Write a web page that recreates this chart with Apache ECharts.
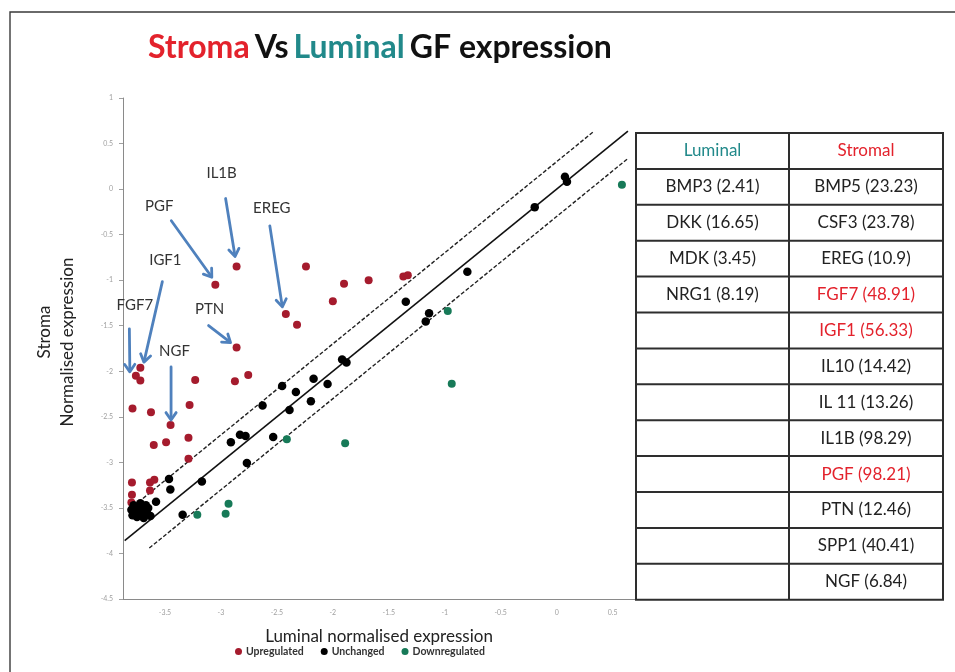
<!DOCTYPE html>
<html>
<head>
<meta charset="utf-8">
<script src="https://cdn.jsdelivr.net/npm/echarts@6/dist/echarts.min.js"></script>
<style>
  html, body { margin: 0; padding: 0; background: #ffffff; }
  #chart { width: 955px; height: 672px; }
</style>
</head>
<body>
<div id="chart"></div>
<script>
// Growth factor expression: [luminal, stroma] normalised expression (log10)
const upregulated = [
  [-2.86, -0.85], [-2.24, -0.85], [-3.05, -1.05], [-1.90, -1.04], [-1.68, -1.00],
  [-2.00, -1.23], [-1.37, -0.96], [-1.33, -0.945], [-2.42, -1.37], [-2.32, -1.49],
  [-2.86, -1.74], [-3.72, -1.96], [-3.76, -2.05], [-3.72, -2.10], [-3.23, -2.095],
  [-2.875, -2.11], [-2.756, -2.04], [-3.79, -2.41], [-3.625, -2.45], [-3.28, -2.37],
  [-3.45, -2.59], [-3.60, -2.81], [-3.49, -2.78], [-3.29, -2.73], [-3.29, -2.96],
  [-3.795, -3.22], [-3.634, -3.22], [-3.595, -3.19], [-3.795, -3.355], [-3.634, -3.31],
  [-3.80, -3.44]
];
// Gene names of the labelled upregulated points (index into upregulated)
const labelledGenes = ['IL1B', 'PGF', 'EREG', 'PTN', 'IGF1', 'FGF7', 'NGF'];
const labelledIndex = [0, 2, 8, 10, 11, 12, 20];

const unchanged = [
  [0.074, 0.135], [0.092, 0.08], [-0.196, -0.198], [-0.798, -0.908], [-1.348, -1.238],
  [-1.14, -1.363], [-1.17, -1.454], [-1.917, -1.872], [-1.878, -1.905], [-2.172, -2.081],
  [-2.047, -2.139], [-2.453, -2.161], [-2.33, -2.227], [-2.196, -2.33], [-2.628, -2.377],
  [-2.387, -2.425], [-2.533, -2.722], [-2.83, -2.696], [-2.78, -2.711], [-2.911, -2.78],
  [-2.768, -3.008], [-3.17, -3.209], [-3.464, -3.183], [-3.452, -3.297], [-3.58, -3.432],
  [-3.342, -3.575],
  [-3.80, -3.52], [-3.79, -3.58], [-3.78, -3.47], [-3.76, -3.55], [-3.75, -3.60],
  [-3.74, -3.50], [-3.72, -3.45], [-3.71, -3.57], [-3.70, -3.52], [-3.69, -3.61],
  [-3.67, -3.47], [-3.66, -3.56], [-3.65, -3.50], [-3.63, -3.59]
];

const downregulated = [
  [0.583, 0.047], [-0.973, -1.337], [-0.9375, -2.136], [-2.411, -2.747], [-1.89, -2.791],
  [-2.932, -3.454], [-2.958, -3.564], [-3.211, -3.575]
];

// Equal-expression line and the 2-fold boundaries either side of it
const identityLine = [[-3.86, -3.86], [0.637, 0.637]];
const upperBound = [[-3.78, -3.479], [0.324, 0.625]];
const lowerBound = [[-3.64, -3.941], [0.637, 0.336]];

const xTicks = [-3.5, -3, -2.5, -2, -1.5, -1, -0.5, 0, 0.5];

// Fold changes listed in the side table
const luminalGenes = ['BMP3', 'DKK', 'MDK', 'NRG1'];
const luminalFold = [2.41, 16.65, 3.45, 8.19];
const stromalGenes = ['BMP5', 'CSF3', 'EREG', 'FGF7', 'IGF1', 'IL10', 'IL 11', 'IL1B', 'PGF', 'PTN', 'SPP1', 'NGF'];
const stromalFold = [23.23, 23.78, 10.9, 48.91, 56.33, 14.42, 13.26, 98.29, 98.21, 12.46, 40.41, 6.84];
const stromalHighlighted = ['FGF7', 'IGF1', 'PGF'];

const RED = '#a51b2d', BLACK = '#000000', GREEN = '#177a58';
const TITLE_RED = '#e3222c', TEAL = '#21898a';
const FONT = 'Lato, "Open Sans", sans-serif';

const chart = echarts.init(document.getElementById('chart'), null, { renderer: 'canvas' });

const option = {
  animation: false,
  backgroundColor: '#ffffff',
  title: {
    left: 143, top: 27,
    text: '{r|Stroma} {k|Vs} {t|Luminal} {k|GF expression}',
    textStyle: {
      rich: {
        r: { color: TITLE_RED, fontSize: 32, fontWeight: 'bold', fontFamily: FONT },
        t: { color: TEAL, fontSize: 32, fontWeight: 'bold', fontFamily: FONT },
        k: { color: '#111', fontSize: 32, fontWeight: 'bold', fontFamily: FONT }
      }
    }
  },
  legend: {
    left: 230, top: 641,
    itemWidth: 7, itemHeight: 7, itemGap: 17,
    icon: 'circle',
    textStyle: { fontSize: 10.5, fontWeight: 'bold', color: '#333', fontFamily: FONT, padding: [0, 0, 0, -1] },
    data: ['Upregulated', 'Unchanged', 'Downregulated']
  },
  grid: { left: 123, top: 98, width: 512, height: 501 },
  xAxis: {
    type: 'value', min: -3.875, max: 0.7,
    name: 'Luminal normalised expression',
    nameLocation: 'middle', nameGap: 29,
    nameTextStyle: { fontSize: 17, color: '#222', fontFamily: FONT },
    axisLine: { onZero: false, lineStyle: { color: '#8a8a8a', width: 1 } },
    axisTick: { show: false },
    axisLabel: { customValues: xTicks, fontSize: 7, color: '#a0a0a0', margin: 10, fontFamily: FONT },
    splitLine: { show: false }
  },
  yAxis: {
    type: 'value', min: -4.5, max: 1, interval: 0.5,
    axisLine: { show: true, onZero: false, lineStyle: { color: '#8a8a8a', width: 1 } },
    axisTick: { show: true, length: 4, lineStyle: { color: '#a0a0a0' } },
    axisLabel: { fontSize: 7, color: '#a0a0a0', margin: 10, fontFamily: FONT },
    splitLine: { show: false }
  },
  series: [
    { type: 'line', data: identityLine, symbol: 'none', silent: true, z: 1,
      lineStyle: { color: '#111', width: 1.6 } },
    { type: 'line', data: upperBound, symbol: 'none', silent: true, z: 1,
      lineStyle: { color: '#222', width: 1.4, type: [4, 2] } },
    { type: 'line', data: lowerBound, symbol: 'none', silent: true, z: 1,
      lineStyle: { color: '#222', width: 1.4, type: [4, 2] } },
    { name: 'Upregulated', type: 'scatter', data: upregulated, symbolSize: 8, z: 3,
      itemStyle: { color: RED, opacity: 1 } },
    { name: 'Unchanged', type: 'scatter', data: unchanged, symbolSize: 8.5, z: 3,
      itemStyle: { color: BLACK, opacity: 1 } },
    { name: 'Downregulated', type: 'scatter', data: downregulated, symbolSize: 8, z: 3,
      itemStyle: { color: GREEN, opacity: 1 } }
  ]
};
chart.setOption(option);

// Callout placement relative to each labelled point, in pixels:
// tip of the arrow, tail of the arrow, and centre of the gene label.
const calloutLayout = {
  IL1B: { tip: [-1.5, -10], tail: [-11, -68], label: [-15, -93] },
  PGF:  { tip: [-3.5, -7.5], tail: [-44, -64], label: [-56, -79] },
  EREG: { tip: [-3.5, -7], tail: [-16, -88], label: [-14, -106] },
  PTN:  { tip: [-6, -5], tail: [-28, -22], label: [-27, -38] },
  IGF1: { tip: [3.6, -5.5], tail: [22, -86], label: [25, -107] },
  FGF7: { tip: [-6, -4], tail: [-6.5, -47], label: [-1, -71] },
  NGF:  { tip: [0.5, -5], tail: [0.5, -58], label: [4, -74] }
};

const ARROW = '#4f81bd';
const graphics = [];

// Outer frame
graphics.push({ type: 'rect', shape: { x: 10, y: 12, width: 960, height: 680 }, silent: true,
  style: { fill: null, stroke: '#3a3a3a', lineWidth: 1.4 }, z: 0 });

labelledGenes.forEach(function (gene, i) {
  const p = chart.convertToPixel({ gridIndex: 0 }, upregulated[labelledIndex[i]]);
  const L = calloutLayout[gene];
  const tip = [p[0] + L.tip[0], p[1] + L.tip[1]];
  const tail = [p[0] + L.tail[0], p[1] + L.tail[1]];
  const dx = tip[0] - tail[0], dy = tip[1] - tail[1];
  const len = Math.sqrt(dx * dx + dy * dy);
  const ux = dx / len, uy = dy / len;
  const head = 9, ang = 0.6;
  const c = Math.cos(ang), s = Math.sin(ang);
  const h1 = [tip[0] - head * (ux * c - uy * s), tip[1] - head * (uy * c + ux * s)];
  const h2 = [tip[0] - head * (ux * c + uy * s), tip[1] - head * (uy * c - ux * s)];
  graphics.push({ type: 'line', silent: true, z: 5,
    shape: { x1: tail[0], y1: tail[1], x2: tip[0] - ux * 1.5, y2: tip[1] - uy * 1.5 },
    style: { stroke: ARROW, lineWidth: 2.8, lineCap: 'round' } });
  graphics.push({ type: 'polyline', silent: true, z: 5,
    shape: { points: [h1, tip, h2] },
    style: { stroke: ARROW, lineWidth: 2.8, fill: null, lineJoin: 'round', lineCap: 'round' } });
  graphics.push({ type: 'text', silent: true, z: 5,
    x: p[0] + L.label[0], y: p[1] + L.label[1],
    style: { text: gene, fill: '#333', fontSize: 15, fontFamily: FONT,
      textAlign: 'center', textVerticalAlign: 'middle' } });
});

// Y axis title, two rotated lines
graphics.push({ type: 'text', silent: true, x: 45, y: 332, rotation: Math.PI / 2,
  style: { text: 'Stroma', fill: '#222', fontSize: 17, fontFamily: FONT, textAlign: 'center', textVerticalAlign: 'middle' } });
graphics.push({ type: 'text', silent: true, x: 68, y: 342, rotation: Math.PI / 2,
  style: { text: 'Normalised expression', fill: '#222', fontSize: 17, fontFamily: FONT, textAlign: 'center', textVerticalAlign: 'middle' } });

// Side table of fold changes
const tableLeft = 636, tableTop = 133, colWidths = [153, 154], rowHeight = 35.9;
const rowCount = stromalGenes.length + 1;
const tableWidth = colWidths[0] + colWidths[1];
const tableHeight = rowHeight * rowCount;
const LINE = '#2e2e2e';
graphics.push({ type: 'rect', silent: true, z: 4,
  shape: { x: tableLeft, y: tableTop, width: tableWidth, height: tableHeight },
  style: { fill: '#fff', stroke: LINE, lineWidth: 2 } });
for (let r = 1; r < rowCount; r++) {
  graphics.push({ type: 'line', silent: true, z: 4,
    shape: { x1: tableLeft, y1: tableTop + r * rowHeight, x2: tableLeft + tableWidth, y2: tableTop + r * rowHeight },
    style: { stroke: LINE, lineWidth: 2 } });
}
graphics.push({ type: 'line', silent: true, z: 4,
  shape: { x1: tableLeft + colWidths[0], y1: tableTop, x2: tableLeft + colWidths[0], y2: tableTop + tableHeight },
  style: { stroke: LINE, lineWidth: 2 } });

function cellText(col, row, text, color) {
  const cx = tableLeft + (col === 0 ? colWidths[0] / 2 : colWidths[0] + colWidths[1] / 2);
  const cy = tableTop + (row + 0.5) * rowHeight;
  graphics.push({ type: 'text', silent: true, z: 6, x: cx, y: cy,
    style: { text: text, fill: color, fontSize: 17, fontFamily: FONT,
      textAlign: 'center', textVerticalAlign: 'middle' } });
}
cellText(0, 0, 'Luminal', TEAL);
cellText(1, 0, 'Stromal', TITLE_RED);
luminalGenes.forEach(function (g, i) {
  cellText(0, i + 1, g + ' (' + luminalFold[i] + ')', '#222');
});
stromalGenes.forEach(function (g, i) {
  const hi = stromalHighlighted.indexOf(g) >= 0;
  cellText(1, i + 1, g + ' (' + stromalFold[i] + ')', hi ? TITLE_RED : '#222');
});

chart.setOption({ graphic: graphics });
</script>
</body>
</html>
